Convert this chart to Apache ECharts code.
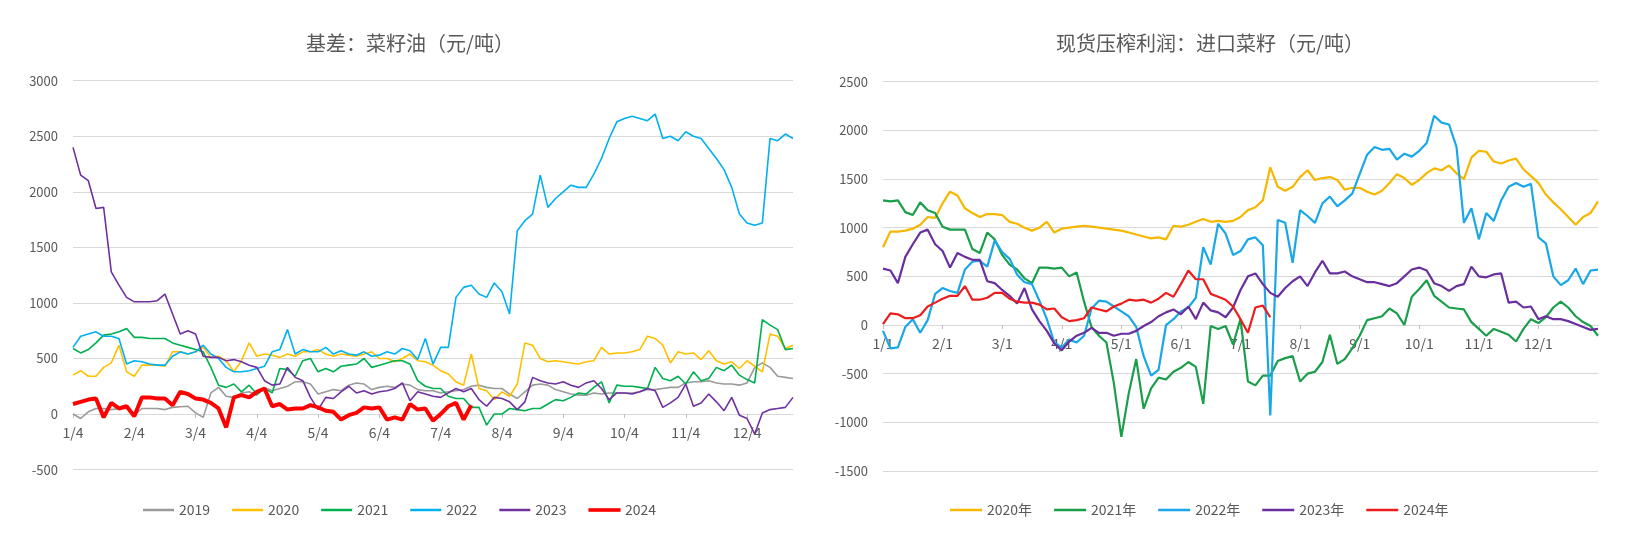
<!DOCTYPE html>
<html>
<head>
<meta charset="utf-8">
<script src="https://cdn.jsdelivr.net/npm/echarts@6/dist/echarts.min.js"></script>
<style>
html,body{margin:0;padding:0;background:#fff;}
#c{width:1641px;height:539px;}
</style>
</head>
<body>
<div id="c"></div>
<script>
// ---------- categories ----------
const leftMonths = [1,2,3,4,5,6,7,8,9,10,11,12];
const leftDays = [4,8,12,16,20,24,28];
const rightMonths = [1,2,3,4,5,6,7,8,9,10,11,12];
const rightDays = [1,5,9,13,17,21,25,28];

const leftCategories = [];
leftMonths.forEach(m => {
  leftDays.forEach(d => leftCategories.push(m + '/' + d));
  if (m < 12) leftCategories.push((m + 1) + '/1');
});
const rightCategories = [];
rightMonths.forEach(m => rightDays.forEach(d => rightCategories.push(m + '/' + d)));
rightCategories.push('12/31');

const leftTickDay = '4';
const rightTickDay = '1';

// ---------- left chart: 基差 菜籽油 ----------
const leftNames = ['2019','2020','2021','2022','2023','2024'];
const basis2019 = [0,-40,20,50,50,40,50,50,-10,50,50,50,40,60,65,70,10,-30,190,240,160,150,190,200,170,240,210,230,250,290,290,270,180,200,220,210,260,280,270,220,240,250,240,270,260,220,210,210,190,200,210,220,250,260,240,230,230,180,140,200,260,270,260,220,200,180,170,170,190,180,190,190,190,190,200,220,220,230,240,240,280,290,290,300,280,270,270,260,280,420,460,420,340,330,320];
const basis2020 = [350,390,340,340,420,460,620,380,340,440,440,440,430,560,560,540,560,600,510,520,480,380,480,640,520,540,530,510,540,520,560,560,580,540,520,540,530,520,540,560,500,500,470,500,540,480,470,440,390,360,290,260,540,230,210,130,200,160,270,640,620,500,470,480,470,460,450,470,480,600,540,550,550,560,580,700,680,620,460,560,540,550,490,570,480,450,470,410,480,430,380,720,700,590,620];
const basis2021 = [590,550,580,640,710,720,740,770,690,690,680,680,680,640,620,600,580,560,420,260,240,270,200,260,180,230,190,410,400,340,480,500,380,410,380,430,440,450,500,420,440,460,480,480,450,300,250,230,230,160,140,140,60,60,-100,0,0,50,40,30,50,50,90,130,120,150,190,180,240,290,100,260,250,250,240,230,420,320,300,340,270,380,300,320,420,390,440,350,310,280,850,800,760,580,590];
const basis2022 = [600,700,720,740,700,700,680,450,480,470,450,440,440,520,560,540,560,620,540,500,420,380,380,390,410,430,560,580,760,540,580,560,560,600,540,570,540,530,560,520,530,560,540,590,570,490,680,450,600,600,1050,1140,1160,1080,1050,1180,1100,900,1650,1740,1800,2150,1860,1940,2000,2060,2040,2040,2160,2300,2480,2630,2660,2680,2660,2640,2700,2480,2500,2460,2540,2500,2480,2390,2300,2200,2040,1800,1720,1700,1720,2480,2460,2520,2480];
const basis2023 = [2400,2150,2100,1850,1860,1280,1160,1050,1010,1010,1010,1020,1080,900,720,750,720,520,510,510,480,490,470,440,420,300,260,270,420,330,300,150,40,150,140,200,250,190,210,180,200,210,230,280,120,200,180,160,150,190,230,200,230,130,70,150,140,110,40,110,330,300,280,270,290,260,240,280,300,230,130,190,190,180,200,230,210,60,100,150,270,70,100,180,110,30,150,-10,-40,-180,10,40,50,60,150];
const basis2024 = [90,110,130,140,-30,100,50,70,-20,150,150,140,140,80,200,180,140,130,100,50,-120,150,170,150,200,230,70,90,40,50,50,80,60,30,20,-50,-10,10,60,50,60,-50,-30,-50,90,40,50,-60,0,70,100,-50,80];

// ---------- right chart: 现货压榨利润 进口菜籽 ----------
const rightNames = ['2020年','2021年','2022年','2023年','2024年'];
const crush2020 = [800,960,960,970,990,1030,1110,1100,1250,1370,1330,1200,1150,1110,1140,1140,1130,1060,1040,1000,970,1000,1060,950,990,1000,1010,1020,1010,1000,990,980,970,950,930,910,890,900,880,1020,1010,1030,1060,1090,1060,1070,1060,1070,1110,1180,1210,1280,1620,1420,1380,1420,1520,1590,1490,1510,1520,1490,1390,1410,1410,1370,1340,1380,1460,1550,1510,1440,1490,1560,1610,1590,1640,1560,1500,1720,1790,1780,1680,1660,1690,1710,1600,1530,1460,1340,1260,1190,1110,1030,1110,1150,1270];
const crush2021 = [1280,1270,1280,1160,1130,1260,1180,1150,1010,980,980,980,780,740,950,880,720,620,570,480,430,590,590,580,590,500,540,240,-20,-110,-180,-600,-1150,-700,-350,-860,-650,-540,-560,-480,-440,-380,-430,-810,-10,-40,-10,-200,60,-580,-620,-520,-520,-370,-340,-320,-580,-500,-480,-380,-100,-400,-350,-240,-110,50,70,90,170,120,0,290,370,460,300,240,180,170,160,30,-40,-110,-40,-70,-100,-170,-40,60,20,80,180,240,180,90,30,-10,-110];
const crush2022 = [-60,-240,-230,-20,60,-80,50,320,380,350,330,570,650,660,600,870,750,680,520,440,420,250,60,-180,-230,-150,-180,-110,170,250,240,190,140,90,-20,-320,-520,-460,0,60,140,180,280,800,620,1040,940,720,760,880,900,820,-930,1080,1050,640,1180,1120,1050,1250,1320,1220,1280,1350,1550,1750,1830,1800,1810,1700,1760,1730,1790,1870,2150,2080,2060,1830,1050,1200,880,1150,1070,1280,1420,1460,1420,1450,900,840,500,410,460,580,420,560,570];
const crush2023 = [580,560,430,700,830,950,980,830,760,590,740,700,670,670,450,430,360,300,220,380,160,40,-60,-190,-260,-170,-110,-80,-30,-80,-80,-110,-90,-90,-60,-10,30,90,130,160,110,190,60,230,150,130,80,180,360,500,530,420,330,290,380,450,500,400,540,660,530,530,550,500,470,440,440,420,400,430,500,570,590,560,430,400,350,400,420,600,500,490,520,530,230,240,180,190,60,90,60,60,40,10,-20,-50,-40];
const crush2024 = [10,120,110,70,70,100,190,230,270,300,300,400,260,260,280,330,330,270,240,230,230,210,160,170,80,40,50,70,180,160,140,190,220,260,250,260,230,270,330,290,420,560,470,470,320,290,260,190,60,-80,180,200,80];

// ---------- styling ----------
const txt = '#595959';
const gridC = '#d9d9d9';
const font = 'Noto Sans CJK SC';
const colorsLeft = ['#9a9a9a','#ffc000','#00b050','#00b0f0','#7030a0','#ff0000'];
const colorsRight = ['#f5b700','#1a9e4a','#1aa7e8','#6a2f9e','#ee1c1c'];

const leftData = [basis2019, basis2020, basis2021, basis2022, basis2023, basis2024];
const rightData = [crush2020, crush2021, crush2022, crush2023, crush2024];

// grid geometry
const gL = { left: 73, right: 848, top: 80.7, bottom: 69.4 };
const gR = { left: 883, right: 43, top: 81.7, bottom: 68 };
const H = 539;
const yRangeL = [-500, 3000];
const yRangeR = [-1500, 2500];
// offset that places the category axis on the zero line of its value axis
function zeroOffset(g, range){
  const h = H - g.top - g.bottom;
  return -h * (0 - range[0]) / (range[1] - range[0]);
}

function tickFn(day){ return (idx, val) => String(val).split('/')[1] === day; }

const series = [];
leftNames.forEach((n, k) => series.push({
  name: n, type: 'line', xAxisIndex: 0, yAxisIndex: 0, data: leftData[k],
  symbol: 'none', smooth: false, z: 2 + k,
  lineStyle: { width: k === 5 ? 4 : 1.6, color: colorsLeft[k] },
  itemStyle: { color: colorsLeft[k] }
}));
rightNames.forEach((n, k) => series.push({
  name: n, type: 'line', xAxisIndex: 1, yAxisIndex: 1, data: rightData[k],
  symbol: 'none', smooth: false, z: 2 + k,
  lineStyle: { width: 2.2, color: colorsRight[k] },
  itemStyle: { color: colorsRight[k] }
}));

function xAx(cats, grid, day, offset){
  return {
    type: 'category', gridIndex: grid, data: cats, boundaryGap: false,
    position: 'bottom', offset: offset,
    axisLine: { show: true, onZero: false, lineStyle: { color: gridC } },
    axisTick: { show: true, interval: tickFn(day), length: 4, lineStyle: { color: '#bfbfbf' } },
    axisLabel: { interval: tickFn(day), color: txt, fontSize: 14, fontFamily: font, margin: 12 },
    splitLine: { show: false }
  };
}
function yAx(grid, range){
  return {
    type: 'value', gridIndex: grid, min: range[0], max: range[1], interval: 500,
    axisLine: { show: false }, axisTick: { show: false },
    axisLabel: { color: txt, fontSize: 13, fontFamily: font, margin: 15, formatter: v => String(v) },
    splitLine: { lineStyle: { color: gridC, width: 1.2 } }
  };
}

function legendItems(names, colors, thickIdx){
  return names.map((n, k) => (k === thickIdx
    ? { name: n, icon: 'rect', itemStyle: { color: colors[k], borderColor: colors[k], borderWidth: 1.2 } }
    : { name: n, icon: 'rect', itemStyle: { color: colors[k], borderWidth: 0 } }));
}

const chart = echarts.init(document.getElementById('c'), null, { renderer: 'canvas' });
chart.setOption({
  animation: false,
  backgroundColor: '#ffffff',
  title: [
    { text: '基差：菜籽油（元/吨）', left: 405, top: 28, textAlign: 'center',
      textStyle: { color: txt, fontSize: 20, fontWeight: 'normal', fontFamily: font } },
    { text: '现货压榨利润：进口菜籽（元/吨）', left: 1205, top: 28, textAlign: 'center',
      textStyle: { color: txt, fontSize: 20, fontWeight: 'normal', fontFamily: font } }
  ],
  legend: [
    { data: legendItems(leftNames, colorsLeft, 5), left: 138, top: 498, itemWidth: 31, itemHeight: 2.5, itemGap: 22,
      textStyle: { color: txt, fontSize: 14, fontFamily: font } },
    { data: legendItems(rightNames, colorsRight, -1), left: 945, top: 498, itemWidth: 32, itemHeight: 2.5, itemGap: 22,
      textStyle: { color: txt, fontSize: 14, fontFamily: font } }
  ],
  grid: [
    Object.assign({ containLabel: false }, gL),
    Object.assign({ containLabel: false }, gR)
  ],
  xAxis: [
    xAx(leftCategories, 0, leftTickDay, zeroOffset(gL, yRangeL)),
    xAx(rightCategories, 1, rightTickDay, zeroOffset(gR, yRangeR))
  ],
  yAxis: [ yAx(0, yRangeL), yAx(1, yRangeR) ],
  series: series
});
</script>
</body>
</html>
